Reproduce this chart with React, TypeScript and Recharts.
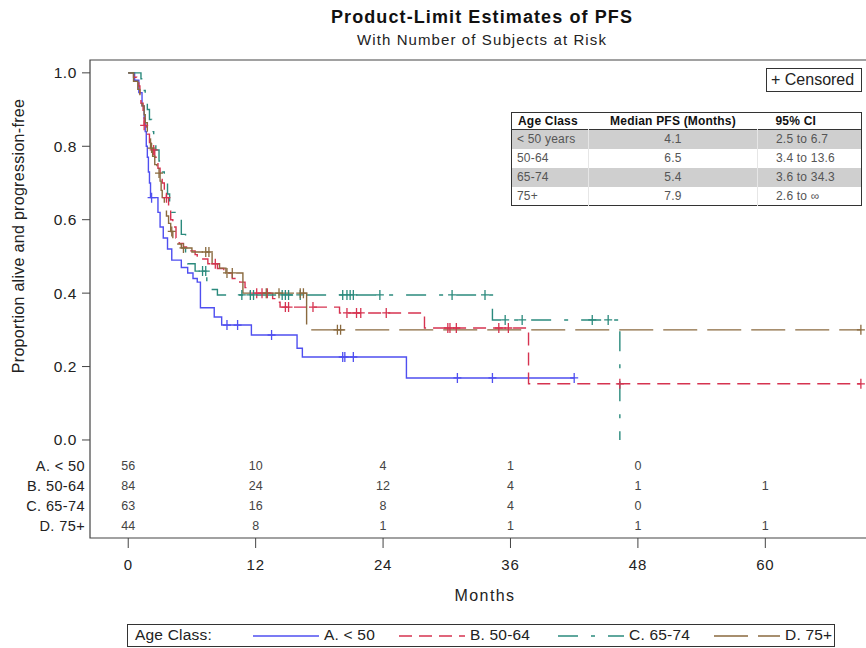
import {
  ComposedChart,
  Line,
  XAxis,
  YAxis,
  ReferenceArea,
  ReferenceDot,
} from "recharts";

// Kaplan-Meier steps: [months, proportion]
const stepsA = [
  [0, 1], [0.6, 0.98], [1.0, 0.946], [1.3, 0.91], [1.5, 0.875], [1.6, 0.84],
  [1.7, 0.8], [1.8, 0.77], [1.9, 0.73], [2.0, 0.7], [2.1, 0.66], [2.8, 0.62],
  [3.0, 0.58], [3.3, 0.55], [3.7, 0.52], [4.1, 0.49], [5.0, 0.47], [5.6, 0.455],
  [6.1, 0.44], [6.5, 0.43], [6.8, 0.36], [8.1, 0.335], [8.8, 0.313],
  [11.6, 0.286], [15.9, 0.25], [16.4, 0.226], [26.2, 0.169],
];
const censorA = [2.2, 9.3, 10.3, 13.5, 20.2, 20.4, 21.2, 31.0, 34.3, 42.0];

const stepsB = [
  [0, 1], [0.5, 0.988], [0.8, 0.976], [1.0, 0.964], [1.1, 0.94], [1.2, 0.917],
  [1.4, 0.88], [1.5, 0.857], [1.7, 0.845], [1.8, 0.833], [2.0, 0.81],
  [2.3, 0.79], [2.5, 0.77], [2.8, 0.74], [3.0, 0.72], [3.2, 0.7], [3.4, 0.68],
  [3.6, 0.66], [3.8, 0.63], [4.0, 0.6], [4.2, 0.58], [4.5, 0.55], [4.8, 0.535],
  [5.2, 0.526], [5.8, 0.515], [6.3, 0.505], [6.5, 0.493], [7.5, 0.48],
  [8.4, 0.467], [9.0, 0.455], [9.8, 0.44], [10.5, 0.43], [11.0, 0.415],
  [11.5, 0.4], [13.6, 0.385], [14.0, 0.375], [14.3, 0.362], [19.9, 0.346],
  [27.9, 0.305], [37.7, 0.153],
];
const censorB = [
  1.5, 2.4, 3.6, 8.2, 12.1, 12.6, 13.1, 14.8, 15.1, 17.4, 20.6, 21.5, 21.9,
  24.3, 30.1, 30.3, 30.9, 34.9, 35.8, 46.3, 69.0,
];

const stepsC = [
  [0, 1], [1.2, 0.984], [1.4, 0.952], [1.6, 0.92], [1.8, 0.9], [2.0, 0.873],
  [2.2, 0.84], [2.4, 0.81], [2.6, 0.79], [2.9, 0.76], [3.2, 0.73], [3.4, 0.7],
  [3.7, 0.67], [3.9, 0.64], [4.1, 0.62], [4.5, 0.6], [5.0, 0.56], [5.4, 0.5],
  [5.6, 0.48], [6.3, 0.46], [7.4, 0.43], [7.6, 0.41], [8.4, 0.395],
  [34.3, 0.327], [46.3, 0],
];
const censorC = [
  7.0, 7.3, 10.7, 11.5, 11.8, 14.5, 14.8, 15.1, 16.2, 20.2, 20.6, 20.9, 21.2,
  23.7, 30.5, 33.6, 35.5, 37.1, 43.7, 45.2,
];

const stepsD = [
  [0, 1], [0.5, 0.977], [0.9, 0.955], [1.1, 0.93], [1.3, 0.91], [1.5, 0.886],
  [1.6, 0.864], [1.8, 0.84], [1.9, 0.82], [2.1, 0.795], [2.3, 0.773],
  [2.5, 0.75], [2.7, 0.727], [3.0, 0.705], [3.1, 0.68], [3.2, 0.66],
  [3.4, 0.636], [3.6, 0.61], [3.8, 0.59], [4.0, 0.568], [4.2, 0.545],
  [4.6, 0.534], [5.0, 0.523], [6.0, 0.512], [7.9, 0.48], [8.6, 0.468],
  [9.2, 0.455], [10.8, 0.4], [16.8, 0.3],
];
const censorD = [
  2.2, 2.9, 4.1, 5.2, 7.3, 7.6, 9.3, 9.8, 13.0, 14.2, 16.2, 16.5, 19.7, 20.0,
  69.0,
];

// number at risk table
const riskTimes = [0, 12, 24, 36, 48, 60];
const riskLabels = ["A. < 50", "B. 50-64", "C. 65-74", "D. 75+"];
const riskA = [56, 10, 4, 1, 0, null];
const riskB = [84, 24, 12, 4, 1, 1];
const riskC = [63, 16, 8, 4, 0, null];
const riskD = [44, 8, 1, 1, 1, 1];
const riskRowY = [-0.071, -0.125, -0.18, -0.234];

// median table
const medianClass = ["< 50 years", "50-64", "65-74", "75+"];
const medianPfs = ["4.1", "6.5", "5.4", "7.9"];
const medianCi = ["2.5 to 6.7", "3.4 to 13.6", "3.6 to 34.3", "2.6 to \u221e"];

const xTicks = [0, 12, 24, 36, 48, 60];
const yTicks = [0, 0.2, 0.4, 0.6, 0.8, 1.0];

const X_MIN = -3.6;
const X_MAX = 70.8;
const Y_MIN = -0.267;
const Y_MAX = 1.035;

const FONT = "Arial, 'Liberation Sans', sans-serif";

const groups = [
  { name: "A. < 50", steps: stepsA, censor: censorA, color: "#4f4ff0", dash: undefined },
  { name: "B. 50-64", steps: stepsB, censor: censorB, color: "#d63350", dash: "13 7" },
  { name: "C. 65-74", steps: stepsC, censor: censorC, color: "#2b8a7d", dash: "20 13 4 13" },
  { name: "D. 75+", steps: stepsD, censor: censorD, color: "#8a6a3f", dash: "34 10" },
];
// where each legend sample line starts (px)
const legendLeft = [125, 271, 430, 586];

const buildKm = (steps: number[][], censor: number[]) => {
  const pts = steps.map(([t, s]) => ({ t, s, c: 0 }));
  censor.forEach((ct) => {
    let s = 1;
    steps.forEach(([t, v]) => {
      if (t <= ct) s = v;
    });
    pts.push({ t: ct, s, c: 1 });
  });
  return pts.sort((a, b) => a.t - b.t || a.c - b.c);
};

const censorDot = (color: string) => (props: any) => {
  const { cx, cy, payload, index } = props;
  if (!payload || !payload.c || cx == null) return <g key={`e${index}`} />;
  return (
    <path
      key={`c${index}`}
      d={`M${cx - 4},${cy}h8M${cx},${cy - 5}v10`}
      stroke={color}
      strokeWidth={1.3}
      strokeDasharray="0"
      fill="none"
    />
  );
};

const YTick = (props: any) => {
  const { x, y, payload } = props;
  const v = payload.value;
  const row = riskRowY.indexOf(v);
  if (row >= 0) {
    return (
      <text x={x + 8} y={y} textAnchor="end" dominantBaseline="central" fontSize={14.5} letterSpacing={0.4} fill="#222" fontFamily={FONT}>
        {riskLabels[row]}
      </text>
    );
  }
  return (
    <g>
      <line x1={x + 5} x2={x + 13} y1={y} y2={y} stroke="#444" />
      <text x={x} y={y} textAnchor="end" dominantBaseline="central" fontSize={15.5} letterSpacing={0.6} fill="#222" fontFamily={FONT}>
        {v.toFixed(1)}
      </text>
    </g>
  );
};

const risks = [riskA, riskB, riskC, riskD];

const App = () => {
  return (
    <div
      style={{
        position: "fixed",
        left: 0,
        top: 0,
        width: 866,
        height: 648,
        overflow: "hidden",
        background: "#fff",
        fontFamily: FONT,
      }}
    >
      <div style={{ position: "absolute", left: 0, width: 964, top: 7, textAlign: "center", fontWeight: "bold", fontSize: 18, letterSpacing: 1.1, color: "#111" }}>
        Product-Limit Estimates of PFS
      </div>
      <div style={{ position: "absolute", left: 0, width: 964, top: 31, textAlign: "center", fontSize: 15, letterSpacing: 1.1, color: "#222" }}>
        With Number of Subjects at Risk
      </div>
      <div
        style={{
          position: "absolute",
          left: 19,
          top: 236,
          transform: "translate(-50%, -50%) rotate(-90deg)",
          whiteSpace: "nowrap",
          fontSize: 16,
          letterSpacing: 0.3,
          color: "#222",
        }}
      >
        Proportion alive and progression-free
      </div>

      <div style={{ position: "absolute", left: 0, top: 0 }}>
        <ComposedChart width={880} height={648} margin={{ top: 60, right: 0, bottom: 40, left: 0 }}>
          <XAxis
            dataKey="t"
            type="number"
            domain={[X_MIN, X_MAX]}
            allowDataOverflow
            ticks={xTicks}
            interval={0}
            axisLine={false}
            tickSize={10}
            tickMargin={11}
            tickLine={{ stroke: "#444" }}
            tick={{ fontSize: 15, fill: "#222", fontFamily: FONT, letterSpacing: 0.8 }}
            height={70}
            label={{ value: "Months", position: "insideBottom", offset: 7, fontSize: 16, fill: "#222", fontFamily: FONT, letterSpacing: 1.4 }}
          />
          <YAxis
            type="number"
            domain={[Y_MIN, Y_MAX]}
            allowDataOverflow
            ticks={[...riskRowY, ...yTicks]}
            interval={0}
            width={90}
            axisLine={false}
            tickLine={false}
            tickSize={8}
            tickMargin={5}
            tick={<YTick />}
          />
          <ReferenceArea x1={X_MIN} x2={X_MAX} y1={Y_MIN} y2={Y_MAX} fill="none" stroke="#444" strokeWidth={1.2} />
          {groups.map((g) => (
            <Line
              key={g.name}
              data={buildKm(g.steps, g.censor)}
              dataKey="s"
              type="stepAfter"
              stroke={g.color}
              strokeWidth={1.4}
              strokeDasharray={g.dash}
              dot={censorDot(g.color)}
              activeDot={false}
              isAnimationActive={false}
            />
          ))}
          {risks.map((row, ri) =>
            row.map((n, ti) =>
              n == null ? null : (
                <ReferenceDot
                  key={`r${ri}-${ti}`}
                  x={riskTimes[ti]}
                  y={riskRowY[ri]}
                  r={1}
                  shape={(p: any) => (
                    <text x={p.cx} y={p.cy} textAnchor="middle" dominantBaseline="central" fontSize={12.5} fill="#444" fontFamily={FONT}>
                      {n}
                    </text>
                  )}
                />
              )
            )
          )}
        </ComposedChart>
      </div>

      <div
        style={{
          position: "absolute",
          left: 766,
          top: 68,
          width: 96,
          height: 24,
          border: "1px solid #333",
          fontSize: 16,
          lineHeight: "22px",
          paddingLeft: 4,
          boxSizing: "border-box",
          color: "#222",
          whiteSpace: "nowrap",
        }}
      >
        + Censored
      </div>

      <table
        style={{
          position: "absolute",
          left: 511,
          top: 112,
          width: 350,
          borderCollapse: "collapse",
          border: "1.5px solid #333",
          fontSize: 12,
          letterSpacing: 0.2,
          color: "#555",
          tableLayout: "fixed",
        }}
      >
        <colgroup>
          <col style={{ width: 77 }} />
          <col style={{ width: 169 }} />
          <col style={{ width: 104 }} />
        </colgroup>
        <thead>
          <tr style={{ height: 17, borderBottom: "1.5px solid #333" }}>
            <th style={{ textAlign: "left", padding: "0 0 0 6px", color: "#111", fontSize: 12 }}>Age Class</th>
            <th style={{ textAlign: "center", padding: 0, color: "#111", fontSize: 12, whiteSpace: "nowrap" }}>Median PFS (Months)</th>
            <th style={{ textAlign: "left", padding: "0 0 0 18px", color: "#111", fontSize: 12 }}>95% CI</th>
          </tr>
        </thead>
        <tbody>
          {medianClass.map((c, i) => (
            <tr key={c} style={{ height: 19, background: i % 2 === 0 ? "#cfcfcf" : "#fff" }}>
              <td style={{ padding: "0 0 0 5px", borderRight: "1px solid #e6e6e6", whiteSpace: "nowrap" }}>{c}</td>
              <td style={{ padding: 0, textAlign: "center", borderRight: "1px solid #e6e6e6" }}>{medianPfs[i]}</td>
              <td style={{ padding: "0 0 0 18px", whiteSpace: "nowrap" }}>{medianCi[i]}</td>
            </tr>
          ))}
        </tbody>
      </table>

      <div
        style={{
          position: "absolute",
          left: 127,
          top: 624,
          width: 708,
          height: 23,
          border: "1px solid #333",
          boxSizing: "border-box",
          fontSize: 15.5,
          letterSpacing: 0.2,
          color: "#222",
          whiteSpace: "nowrap",
        }}
      >
        <span style={{ position: "absolute", left: 7, top: 1 }}>Age Class:</span>
        {groups.map((g, i) => (
          <span key={g.name} style={{ position: "absolute", left: legendLeft[i], top: 1, display: "flex", alignItems: "center" }}>
            <svg width={66} height={18} style={{ marginRight: 5 }}>
              <line x1={0} x2={66} y1={10} y2={10} stroke={g.color} strokeWidth={1.5} strokeDasharray={g.dash} />
            </svg>
            {g.name}
          </span>
        ))}
      </div>
    </div>
  );
};

export default App;
